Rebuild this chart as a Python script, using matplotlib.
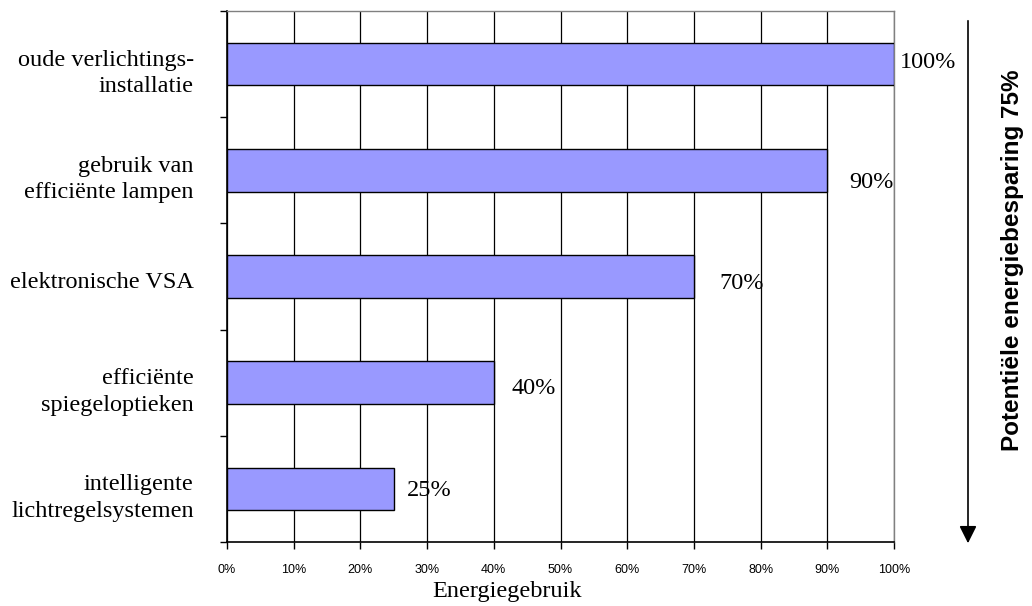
import numpy as np
import matplotlib
matplotlib.use('Agg')
import matplotlib.pyplot as plt
import matplotlib.transforms as mtransforms
from matplotlib.ticker import PercentFormatter

# data
categorieen = ['oude verlichtings-\ninstallatie',
               'gebruik van\nefficiënte lampen',
               'elektronische VSA',
               'efficiënte\nspiegeloptieken',
               'intelligente\nlichtregelsystemen']
energiegebruik = [100, 90, 70, 40, 25]
labels = ['100%', '90%', '70%', '40%', '25%']
# label offsets in pixels (x, y) as positioned in the original
label_dx = [6, 22, 25, 18, 13]
label_dy = [-2, 12, 7, 6, 2]

serif = 'Liberation Serif'
sans = 'Liberation Sans'

fig = plt.figure(figsize=(10.32, 6.06), dpi=100)
ax = fig.add_axes([227/1032, 1-542/606, (894-227)/1032, (542-11)/606])

pos = np.arange(len(categorieen))
ax.barh(pos, energiegebruik, height=0.4, color='#9999FF', edgecolor='black',
        linewidth=1.0, zorder=3)

ax.set_xlim(0, 100)
ax.set_ylim(len(categorieen)-0.5, -0.5)

# grid
ax.set_xticks(np.arange(0, 101, 10))
ax.xaxis.set_major_formatter(PercentFormatter(decimals=0))
ax.grid(axis='x', color='black', linewidth=0.9, zorder=1)
ax.set_axisbelow(True)

# y ticks at category boundaries, labels on centers
ax.set_yticks(np.arange(-0.5, len(categorieen), 1))
ax.set_yticklabels([])
ax.set_yticks(pos, minor=True)
ax.set_yticklabels(categorieen, minor=True, fontfamily=serif, fontsize=17.5,
                   linespacing=1.35, ha='right')
ax.tick_params(axis='y', which='minor', length=0, pad=24)
ax.tick_params(axis='y', which='major', length=5, width=1, direction='out')
ax.tick_params(axis='x', length=5, width=1, direction='out', pad=11,
               labelsize=9, labelfontfamily=sans)
# Excel zet de labels iets lager dan het midden
verschuif = mtransforms.ScaledTranslation(0, -4/100, fig.dpi_scale_trans)
for t in ax.get_yticklabels(minor=True):
    t.set_transform(t.get_transform() + verschuif)

for s in ['top', 'right']:
    ax.spines[s].set_color('#808080')
    ax.spines[s].set_linewidth(1)
for s in ['left', 'bottom']:
    ax.spines[s].set_color('black')
    ax.spines[s].set_linewidth(1.2)

# value labels
for i, (v, lab) in enumerate(zip(energiegebruik, labels)):
    ax.annotate(lab, (v, pos[i]), xytext=(label_dx[i]*0.72, -label_dy[i]*0.72),
                textcoords='offset points', ha='left', va='center',
                fontfamily=serif, fontsize=17.5, zorder=4)

fig.text(507/1032, 1-592/606, 'Energiegebruik', ha='center', va='center',
         fontfamily=serif, fontsize=17.5)

# arrow on the right
fig.add_artist(matplotlib.patches.FancyArrowPatch(
    (968/1032, 1-18/606), (968/1032, 1-546/606), transform=fig.transFigure,
    arrowstyle='-|>,head_length=7,head_width=3.5', color='black',
    linewidth=1.2, mutation_scale=1.5))

fig.text(1012/1032, 1-260/606, 'Potentiële energiebesparing 75%', rotation=90,
         ha='center', va='center', fontfamily=sans, fontweight='bold',
         fontsize=17.5)

fig.savefig('out.png', dpi=100)
